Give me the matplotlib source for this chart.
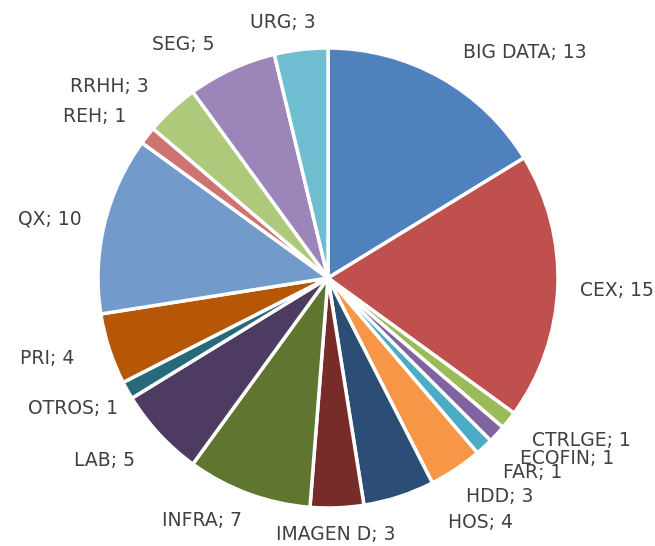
import matplotlib
matplotlib.use("Agg")
import matplotlib.pyplot as plt

# data, clockwise from 12 o'clock
categories = ["BIG DATA", "CEX", "CTRLGE", "ECOFIN", "FAR", "HDD", "HOS", "IMAGEN D",
              "INFRA", "LAB", "OTROS", "PRI", "QX", "REH", "RRHH", "SEG", "URG"]
values = [13, 15, 1, 1, 1, 3, 4, 3, 7, 5, 1, 4, 10, 1, 3, 5, 3]

colors = ["#4F81BD", "#C0504D", "#9BBB59", "#8064A2", "#4BACC6", "#F79646", "#2C4D75",
          "#772C2A", "#5F7530", "#4D3B62", "#276A7C", "#B65708", "#729ACA", "#CD7371",
          "#AFC97A", "#9C85B8", "#6FBDD1"]

# label anchor points in pixels from top-left (Excel-style placement)
label_pos = [(525, 52), (617, 290), (581, 441), (567, 459), (533, 473), (500, 496),
             (480, 523), (336, 535), (202, 521), (105, 460), (73, 408), (47, 358),
             (50, 219), (95, 117), (109, 86), (183, 44), (283, 23)]

W, H = 655, 546
fig = plt.figure(figsize=(W / 100, H / 100), dpi=100)
ax = fig.add_axes([0, 0, 1, 1])

ax.pie(values, colors=colors, startangle=90, counterclock=False,
       center=(328, H - 278), radius=230, frame=True,
       wedgeprops=dict(edgecolor="white", linewidth=2.5))
ax.set_xlim(0, W)
ax.set_ylim(0, H)
ax.set_aspect("equal")
ax.axis("off")

for name, v, (x, y) in zip(categories, values, label_pos):
    ax.text(x, H - y, f"{name}; {v}", ha="center", va="center",
            fontsize=13.5, color="#404040", family="DejaVu Sans")

fig.savefig("out.png", dpi=100)
